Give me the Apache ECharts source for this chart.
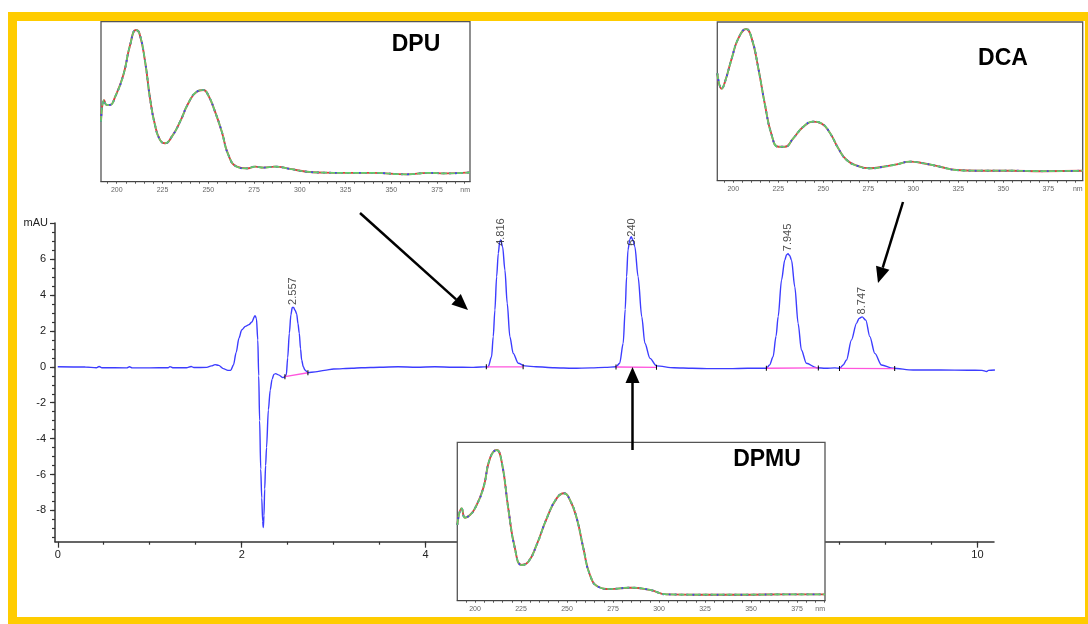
<!DOCTYPE html>
<html>
<head>
<meta charset="utf-8">
<script src="https://cdn.jsdelivr.net/npm/echarts@6/dist/echarts.min.js"></script>
<style>
html, body { margin: 0; padding: 0; background: #fff; }
#main { width: 1088px; height: 624px; }
</style>
</head>
<body>
<div id="main"></div>
<script>
/* 色谱图数据 (min, mAU) */
var chromT = [0,0.3,0.42,0.45,0.48,0.75,0.78,0.81,1.0,1.2,1.22,1.25,1.4,1.45,1.48,1.62,
  1.67,1.71,1.75,1.8,1.85,1.88,1.91,1.94,1.97,2.0,2.04,2.08,2.11,2.145,2.16,2.175,2.185,2.195,2.207,2.218,2.228,2.235,2.242,2.25,2.26,2.27,2.29,2.31,2.33,2.35,2.37,2.4,2.45,
  2.47,2.485,2.5,2.518,2.535,2.55,2.565,2.58,2.598,2.612,2.626,2.64,2.652,2.67,2.688,2.72,
  2.8,2.9,3.0,3.2,3.3,3.5,3.7,3.9,4.1,4.3,4.5,4.6,
  4.68,4.717,4.735,4.753,4.772,4.79,4.805,4.816,4.837,4.862,4.887,4.916,4.952,5.007,5.08,
  5.2,5.4,5.6,5.8,5.95,6.07,
  6.11,6.148,6.17,6.185,6.2,6.22,6.235,6.255,6.275,6.31,6.35,6.384,6.44,6.51,
  6.7,6.9,7.1,7.3,7.5,7.65,7.706,
  7.74,7.778,7.81,7.833,7.87,7.905,7.925,7.94,7.958,7.978,8.014,8.05,8.086,8.14,8.25,8.35,8.45,8.503,
  8.54,8.576,8.63,8.685,8.713,8.746,8.786,8.83,8.884,8.957,9.08,9.3,9.6,9.9,10.05,10.1,10.12,10.19];
var chromV = [0,-0.01,-0.05,0.02,-0.05,-0.06,0.0,-0.06,-0.06,-0.05,0.01,-0.05,-0.05,0.02,-0.04,-0.03,
  0.05,0.12,0.08,-0.1,-0.2,-0.2,0.1,0.8,1.6,2.05,2.25,2.35,2.5,2.85,2.7,1.5,-0.5,-3.0,-5.7,-7.3,-8.6,-8.95,-8.3,-6.8,-5.5,-4.5,-2.4,-1.3,-0.7,-0.42,-0.38,-0.45,-0.6,
  -0.56,-0.45,0.5,1.87,2.9,3.3,3.3,3.15,2.95,2.4,1.87,1.0,0.38,0.0,-0.18,-0.33,
  -0.28,-0.2,-0.12,-0.08,-0.05,-0.02,0.0,-0.02,0.0,-0.02,-0.03,-0.01,
  0.0,0.56,1.68,3.16,5.02,6.32,6.95,7.06,6.69,5.39,3.54,1.68,0.75,0.2,0.05,
  0.0,-0.05,-0.08,-0.06,-0.03,0.0,
  0.2,1.31,3.2,5.02,6.5,7.1,7.25,7.05,6.69,5.02,2.79,1.31,0.47,0.05,
  -0.05,-0.08,-0.1,-0.1,-0.08,-0.08,-0.08,
  0.1,0.56,1.7,2.79,4.84,5.95,6.25,6.3,6.2,5.95,4.46,2.42,0.94,0.2,-0.05,-0.08,-0.06,-0.08,
  0.1,0.38,1.49,2.42,2.7,2.78,2.6,1.68,0.75,0.1,-0.08,-0.18,-0.18,-0.19,-0.2,-0.26,-0.2,-0.18];

/* 积分基线 */
var baseT0 = [2.47, 4.66, 6.07, 7.705, 8.50];
var baseV0 = [-0.55, 0.0, -0.01, -0.08, -0.09];
var baseT1 = [2.72, 5.06, 6.51, 8.27, 9.10];
var baseV1 = [-0.33, 0.0, -0.03, -0.06, -0.1];

/* 峰标注 */
var peakT = [2.557, 4.816, 6.240, 7.945, 8.747];
var peakH = [3.31, 7.06, 7.25, 6.30, 2.78];
var peakLbl = ['2.557', '4.816', '6.240', '7.945', '8.747'];

/* 坐标轴刻度 */
var xTickLbl = [0, 2, 4, 6, 8, 10];
var yTickLbl = [-8, -6, -4, -2, 0, 2, 4, 6];

/* 紫外光谱 (nm, 相对吸光度) */
var dpuNm = [191.4,193.1,194.5,196.3,199.1,203.6,207.3,210.5,212.4,215.5,218.2,220.9,223.7,226.4,230,234.6,239.1,243.7,247.3,250,253.7,257.4,261,265.6,271,275.6,280.1,286.5,294.7,303.8,312.9,325,340,358.5,370,380,393];
var dpuAbs = [0.375,0.51,0.48,0.48,0.53,0.667,0.854,0.948,0.927,0.75,0.52,0.354,0.26,0.24,0.28,0.375,0.49,0.5625,0.573,0.54,0.4375,0.3125,0.167,0.094,0.083,0.094,0.088,0.094,0.08,0.0625,0.057,0.055,0.055,0.046,0.055,0.052,0.058];
var dcaNm = [191.1,193.6,195.4,199.1,202.8,207.1,210.2,213.9,217.6,221.3,225,228.7,233.3,238.9,244.4,249.1,253.7,258.3,263,268.6,275.9,283.3,290.8,298.2,305.6,314.8,324.1,335.2,353.7,372.2,394.1];
var dcaAbs = [0.677,0.58,0.624,0.77,0.897,0.956,0.897,0.708,0.477,0.288,0.214,0.214,0.267,0.34,0.372,0.36,0.3,0.204,0.13,0.095,0.078,0.088,0.103,0.12,0.11,0.088,0.067,0.063,0.063,0.06,0.063];
var dpmuNm = [190.4,192.8,194.6,197.3,200,204.5,208.2,211.8,214.5,218.1,221.7,225.4,229,233.5,239,244.4,248.4,251.6,255.3,258.9,262.5,267,273.4,284.2,295.1,304.2,322.3,349.5,367.6,390.2];
var dpmuAbs = [0.478,0.583,0.524,0.541,0.583,0.71,0.9,0.951,0.878,0.583,0.331,0.225,0.246,0.352,0.52,0.646,0.678,0.636,0.52,0.331,0.162,0.088,0.074,0.082,0.068,0.04,0.038,0.038,0.04,0.04];
var nmTickLbl = [200, 225, 250, 275, 300, 325, 350, 375];

var FONT = '"Liberation Sans", Arial, sans-serif';

function pairs(a, b) {
  return a.map(function (v, i) { return [v, b[i]]; });
}
function steps(from, to, st) {
  var r = [];
  for (var v = from; v <= to + 1e-9; v += st) r.push(+v.toFixed(3));
  return r;
}

var grids = [{ left: 55, top: 223, width: 939, height: 318.7, containLabel: false, outerBoundsMode: 'none' }];
var xAxes = [
  { gridIndex: 0, type: 'value', position: 'bottom', min: -0.03, max: 10.18,
    axisLine: { onZero: false, lineStyle: { color: '#333', width: 1.5 } },
    axisTick: { customValues: xTickLbl, length: 6, lineStyle: { color: '#333', width: 1.2 } },
    axisLabel: { customValues: xTickLbl, margin: 8, fontSize: 11, color: '#222', fontFamily: FONT },
    splitLine: { show: false } },
  { gridIndex: 0, type: 'value', position: 'bottom', min: -0.03, max: 10.18,
    axisLine: { show: false, onZero: false },
    axisTick: { customValues: steps(0.5, 10, 0.5), length: 3, lineStyle: { color: '#333', width: 1.2 } },
    axisLabel: { show: false }, splitLine: { show: false } }
];
var yAxes = [
  { gridIndex: 0, type: 'value', position: 'left', min: -9.74, max: 8.01,
    name: 'mAU', nameLocation: 'end', nameGap: 0,
    nameTextStyle: { align: 'right', verticalAlign: 'middle', padding: [8, 7, 0, 0], fontSize: 11, color: '#222', fontFamily: FONT },
    axisLine: { onZero: false, lineStyle: { color: '#333', width: 1.5 } },
    axisTick: { customValues: steps(-8, 8, 2), length: 5, lineStyle: { color: '#333', width: 1.2 } },
    axisLabel: { customValues: yTickLbl, margin: 9, fontSize: 11, color: '#222', fontFamily: FONT },
    splitLine: { show: false } },
  { gridIndex: 0, type: 'value', position: 'left', min: -9.74, max: 8.01,
    axisLine: { show: false, onZero: false },
    axisTick: { customValues: steps(-9.5, 7.5, 0.5), length: 3, lineStyle: { color: '#333', width: 1.2 } },
    axisLabel: { show: false }, splitLine: { show: false } }
];

var series = [{
  type: 'line', xAxisIndex: 0, yAxisIndex: 0,
  data: pairs(chromT, chromV),
  showSymbol: false, smooth: 0.3, smoothMonotone: 'x',
  lineStyle: { color: '#3c3cff', width: 1.4 }, z: 2
}];

baseT0.forEach(function (t, k) {
  series.push({
    type: 'line', xAxisIndex: 0, yAxisIndex: 0,
    data: [[t, baseV0[k]], [baseT1[k], baseV1[k]]],
    symbol: 'rect', symbolSize: [1, 5], showSymbol: true,
    itemStyle: { color: '#000' },
    lineStyle: { color: '#ff55dd', width: 1.3 }, z: 3
  });
});

series.push({
  type: 'scatter', xAxisIndex: 0, yAxisIndex: 0,
  data: peakT.map(function (t, i) { return { value: [t, Math.min(peakH[i], 6.6)], name: peakLbl[i] }; }),
  symbolSize: 1, itemStyle: { color: 'rgba(0,0,0,0)' },
  label: {
    show: true, position: 'top', distance: 2, rotate: 90,
    align: 'left', verticalAlign: 'middle',
    formatter: '{b}', fontSize: 11, color: '#222', fontFamily: FONT
  }, z: 4
});

//插图: 紫外光谱
function addInset(box, nm, abs) {
  var gi = grids.length;
  grids.push({ left: box[0], top: box[1], width: box[2], height: box[3], show: true,
    backgroundColor: '#fff', borderColor: '#555', borderWidth: 1.3, z: 10,
    containLabel: false, outerBoundsMode: 'none' });
  xAxes.push({ gridIndex: gi, type: 'value', min: box[4], max: box[5], z: 11,
    name: 'nm', nameLocation: 'end', nameGap: 0,
    nameTextStyle: { fontSize: 7, color: '#666', align: 'right', verticalAlign: 'top', padding: [5, 0, 0, 0], fontFamily: FONT },
    axisLine: { onZero: false, lineStyle: { color: '#444', width: 1.2 } },
    axisTick: { customValues: steps(195, 390, 5), length: 2, lineStyle: { color: '#555', width: 1 } },
    axisLabel: { customValues: nmTickLbl, margin: 5, fontSize: 7, color: '#666', fontFamily: FONT },
    splitLine: { show: false } });
  yAxes.push({ gridIndex: gi, type: 'value', min: 0, max: 1, show: false, z: 11 });
  var d = pairs(nm, abs);
  var styles = [
    { color: '#e23b3b', width: 1.9, type: 'solid' },
    { color: '#3b4fe2', width: 1.9, type: [2, 4] },
    { color: '#5fcc6c', width: 1.7, type: [6, 2] }
  ];
  styles.forEach(function (s, k) {
    series.push({ type: 'line', xAxisIndex: gi + 1, yAxisIndex: gi + 1, data: d,
      showSymbol: false, smooth: 0.5,
      lineStyle: s, z: 12 + k });
  });
}
addInset([101, 21.7, 369, 160, 191.4, 393], dpuNm, dpuAbs);
addInset([717.3, 22, 365.4, 158.7, 191.1, 394.1], dcaNm, dcaAbs);
addInset([457.3, 442.3, 367.7, 158.4, 190.4, 390.2], dpmuNm, dpmuAbs);

//箭头
function arrow(x1, y1, x2, y2) {
  var a = Math.atan2(y2 - y1, x2 - x1), L = 16, W = 7;
  var bx = x2 - L * Math.cos(a), by = y2 - L * Math.sin(a);
  return [
    { type: 'line', z: 100, shape: { x1: x1, y1: y1, x2: bx, y2: by }, style: { stroke: '#000', lineWidth: 2.5 } },
    { type: 'polygon', z: 100, shape: { points: [[x2, y2], [bx + W * Math.sin(a), by - W * Math.cos(a)], [bx - W * Math.sin(a), by + W * Math.cos(a)]] }, style: { fill: '#000' } }
  ];
}
function label(txt, x, y) {
  return { type: 'text', z: 100, style: { text: txt, x: x, y: y, fill: '#000', font: 'bold 23px ' + FONT, align: 'center', verticalAlign: 'middle' } };
}

var graphics = [
  { type: 'rect', z: 100, shape: { x: 12.5, y: 16.5, width: 1077, height: 605 }, style: { fill: null, stroke: '#ffcc00', lineWidth: 9 } },
  label('DPU', 416, 45),
  label('DCA', 1003, 59),
  label('DPMU', 767, 460)
].concat(arrow(360, 213, 468, 310), arrow(903, 202, 878, 283), arrow(632.5, 450, 632.5, 367));

var chart = echarts.init(document.getElementById('main'), null, { renderer: 'canvas' });
chart.setOption({
  animation: false,
  backgroundColor: '#fff',
  grid: grids,
  xAxis: xAxes,
  yAxis: yAxes,
  series: series,
  graphic: { elements: graphics }
});
</script>
</body>
</html>
